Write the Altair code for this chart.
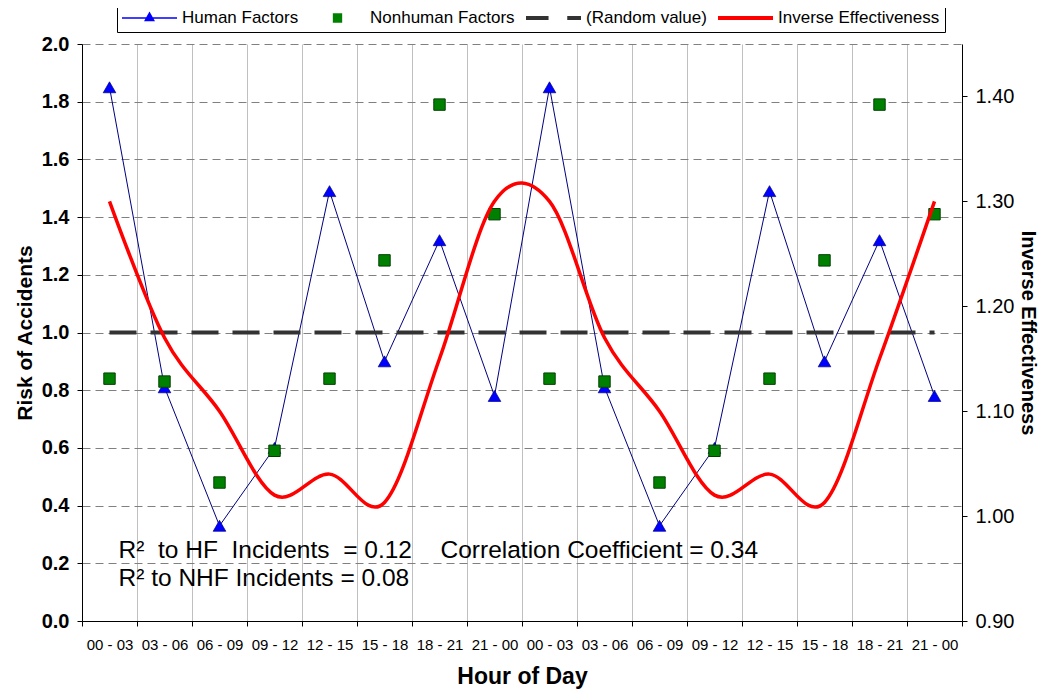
import json
import altair as alt
import pandas as pd

# ---------------- data ----------------
hours = ["00 - 03", "03 - 06", "06 - 09", "09 - 12", "12 - 15", "15 - 18", "18 - 21", "21 - 00",
         "00 - 03", "03 - 06", "06 - 09", "09 - 12", "12 - 15", "15 - 18", "18 - 21", "21 - 00"]
slot = [0, 1, 2, 3, 4, 5, 6, 7, 8, 9, 10, 11, 12, 13, 14, 15]
human_factors = [1.85, 0.81, 0.33, 0.60, 1.49, 0.90, 1.32, 0.78,
                 1.85, 0.81, 0.33, 0.60, 1.49, 0.90, 1.32, 0.78]
nonhuman_factors = [0.84, 0.83, 0.48, 0.59, 0.84, 1.25, 1.79, 1.41,
                    0.84, 0.83, 0.48, 0.59, 0.84, 1.25, 1.79, 1.41]
random_value = [1.0, 1.0, 1.0, 1.0, 1.0, 1.0, 1.0, 1.0,
                1.0, 1.0, 1.0, 1.0, 1.0, 1.0, 1.0, 1.0]
inverse_effectiveness = [1.30, 1.17, 1.10, 1.02, 1.04, 1.013, 1.15, 1.30,
                         1.30, 1.17, 1.10, 1.02, 1.04, 1.013, 1.15, 1.30]

left_ticks = [0.0, 0.2, 0.4, 0.6, 0.8, 1.0, 1.2, 1.4, 1.6, 1.8, 2.0]
right_ticks = [0.90, 1.00, 1.10, 1.20, 1.30, 1.40]

series_names = ["Human Factors", "Nonhuman Factors", "(Random value)", "Inverse Effectiveness"]
series_colors = ["#0000FF", "#008000", "#333333", "#FF0000"]
series_symbols = [
    "M-1,-0.025H1V0.025H-1ZM-0.2,0.12L0,-0.24L0.2,0.12Z",
    "M-0.17,-0.17H0.17V0.17H-0.17Z",
    "M-1,-0.07H-0.18V0.07H-1ZM0.5,-0.07H1V0.07H0.5Z",
    "M-1,-0.07H1V0.07H-1Z",
]

NB = "\u00a0"
annotation_text = ["R\u00b2 " + NB + "to HF " + NB + "Incidents " + NB + "= 0.12",
                   "R\u00b2 to NHF Incidents = 0.08"]
annotation_slot = [0, 0]
annotation_level = [0.218, 0.121]
corr_text = ["Correlation Coefficient = 0.34"]
corr_slot = [6]
corr_level = [0.218]

FONT = "Liberation Sans"

df = pd.DataFrame({
    "slot": slot, "hour": hours, "hf": human_factors, "nhf": nonhuman_factors,
    "rand": random_value, "ie": inverse_effectiveness,
})
legend_df = pd.DataFrame({"series": series_names})
ann_df = pd.DataFrame({"slot": annotation_slot, "level": annotation_level, "text": annotation_text})
corr_df = pd.DataFrame({"slot": corr_slot, "level": corr_level, "text": corr_text})

# ---------------- scales & axes ----------------
x_scale = alt.Scale(type="band", domain=slot, paddingInner=0, paddingOuter=0)
x_axis = alt.Axis(
    title="Hour of Day", labelExpr=json.dumps(hours) + "[datum.value]", labelAngle=0,
    labelOverlap=False, tickBand="extent", grid=True, gridColor="#c0c0c0", gridWidth=1,
    ticks=True, tickSize=5, tickColor="#000000", domainColor="#000000", domainWidth=1,
    labelFont=FONT, labelFontSize=15, labelColor="#000000",
    labelPadding=11, titleFont=FONT, titleFontSize=23, titleFontWeight="bold",
    titleColor="#000000", titlePadding=13,
)
x_enc = alt.X("slot:O", scale=x_scale, axis=x_axis)

yl_scale = alt.Scale(domain=[0, 2], nice=False, zero=False)
yl_axis = alt.Axis(
    title="Risk of Accidents", values=left_ticks, format=".1f", orient="left",
    labelFont=FONT, labelFontSize=20, labelFontWeight="bold", labelColor="#000000", labelPadding=8,
    grid=True, gridDash=[8, 5], gridColor="#808080", gridWidth=1,
    tickSize=5, tickColor="#000000", domainColor="#000000",
    titleFont=FONT, titleFontSize=21, titleFontWeight="bold", titleColor="#000000", titlePadding=6,
)
yr_scale = alt.Scale(domain=[0.9, 1.45], nice=False, zero=False)
yr_axis = alt.Axis(
    title="Inverse Effectiveness", values=right_ticks, format=".2f", orient="right",
    labelFont=FONT, labelFontSize=20, labelColor="#000000", labelPadding=8,
    grid=False, tickSize=5, tickColor="#000000", domainColor="#000000",
    titleFont=FONT, titleFontSize=20, titleFontWeight="bold", titleColor="#000000", titlePadding=4,
)

base = alt.Chart(df)

hf_line = base.mark_line(color="#000080", strokeWidth=1).encode(
    x=x_enc, y=alt.Y("hf:Q", scale=yl_scale, axis=yl_axis))
hf_pts = base.mark_point(shape="triangle-up", filled=True, fill="#0000FF", stroke="#000080",
                         strokeWidth=0.7, size=160, opacity=1).encode(
    x=x_enc, y=alt.Y("hf:Q", scale=yl_scale, axis=yl_axis))
nhf_pts = base.mark_point(shape="square", filled=True, fill="#008000", stroke="#004000",
                          strokeWidth=1, size=130, opacity=1).encode(
    x=x_enc, y=alt.Y("nhf:Q", scale=yl_scale, axis=yl_axis))
rand_line = base.mark_line(color="#333333", strokeWidth=4, strokeDash=[27, 14]).encode(
    x=x_enc, y=alt.Y("rand:Q", scale=yl_scale, axis=yl_axis))

ann = alt.Chart(ann_df).mark_text(align="left", baseline="alphabetic", font=FONT, fontSize=24.5,
                                  color="#000000", dx=9).encode(
    x=x_enc, y=alt.Y("level:Q", scale=yl_scale, axis=yl_axis), text="text:N")
corr = alt.Chart(corr_df).mark_text(align="left", baseline="alphabetic", font=FONT, fontSize=24.5,
                                    color="#000000", dx=1).encode(
    x=x_enc, y=alt.Y("level:Q", scale=yl_scale, axis=yl_axis), text="text:N")

leg = alt.Legend(
    title=None, orient="none", legendX=35, legendY=-40, direction="horizontal",
    symbolSize=3025, symbolStrokeWidth=0, symbolOffset=0, clipHeight=18,
    labelFont=FONT, labelFontSize=17, labelColor="#000000", labelOffset=5, labelLimit=400,
    columnPadding=11, padding=5, strokeColor="#000000", fillColor="#FFFFFF",
)
legend_layer = alt.Chart(legend_df).mark_point(filled=True, opacity=1).encode(
    color=alt.Color("series:N", scale=alt.Scale(domain=series_names, range=series_colors), legend=leg),
    shape=alt.Shape("series:N", scale=alt.Scale(domain=series_names, range=series_symbols), legend=leg),
).transform_filter("false")

left = alt.layer(hf_line, hf_pts, nhf_pts, rand_line, ann, corr, legend_layer)

ie_line = base.mark_line(color="#FF0000", strokeWidth=3.5, interpolate="cardinal", tension=0).encode(
    x=x_enc, y=alt.Y("ie:Q", scale=yr_scale, axis=yr_axis))

chart = alt.layer(left, ie_line).resolve_scale(y="independent").properties(
    width=880, height=577,
    autosize=alt.AutoSizeParams(type="none"),
    padding={"left": 74, "top": 36, "right": 79, "bottom": 69},
).configure(font=FONT).configure_view(stroke=None)

chart.save("out.html", embed_options={"renderer": "svg", "actions": False})
